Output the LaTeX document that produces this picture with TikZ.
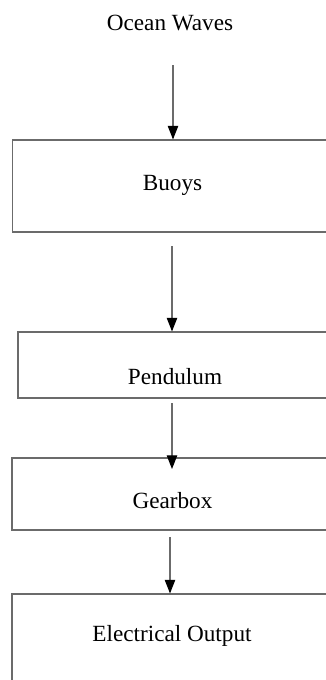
\documentclass[tikz,border=0pt]{standalone}
\usepackage{fontspec}
\setmainfont{Liberation Serif}
\usetikzlibrary{arrows.meta}
\definecolor{linegray}{gray}{0.42}
\tikzset{
  box/.style={draw=linegray, line width=0.55pt, fill=white, inner sep=0pt, minimum width=166.5pt},
  lbl/.style={inner sep=0pt, font=\fontsize{11.6pt}{13pt}\selectfont},
  arr/.style={draw=linegray, line width=0.55pt, -{Triangle[width=5.2pt,length=6.8pt,color=black]}}
}
\begin{document}
\begin{tikzpicture}[x=0.5pt,y=-0.5pt]
\useasboundingbox (0,0) rectangle (326,680);
\clip (0,0) rectangle (326,680);
% boxes
\node[box, minimum height=46pt] (buoys) at (179,186) {};
\node[box, minimum height=33pt, minimum width=163.5pt] (pend) at (181.5,365) {};
\node[box, minimum height=36pt] (gear) at (178.5,494) {};
\node[box, minimum height=53pt] (elec) at (178.5,647) {};
% texts
\node[lbl] (ocean) at (170,23) {Ocean Waves};
\node[lbl] (tb) at (172.5,185) {Buoys};
\node[lbl] (tp) at (175,377) {Pendulum};
\node[lbl] (tg) at (172.5,501) {Gearbox};
\node[lbl] (te) at (172,636) {Electrical Output};
% arrow start points
\coordinate (s1) at (173,65);
\coordinate (s2) at (172,246);
\coordinate (s3) at (172,403);
\coordinate (e3) at (172,469);
\coordinate (s4) at (170,537);
% arrows
\draw[arr] (s1) -- (s1 |- buoys.north);
\draw[arr] (s2) -- (s2 |- pend.north);
\draw[arr] (s3) -- (e3);
\draw[arr] (s4) -- (s4 |- elec.north);
\end{tikzpicture}
\end{document}
